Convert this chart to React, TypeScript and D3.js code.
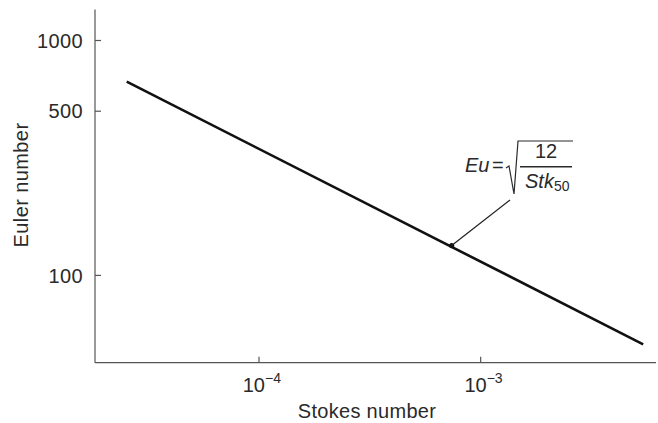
import React from "react";
import * as d3 from "d3";

const lineStokes = [2.53e-5, 5.41e-3];
const lineEuler = [668, 50.9];
const markerStokes = [7.4e-4];
const markerEuler = [134];
const yTicks = [100, 500, 1000];
const yTickLabels = ["100", "500", "1000"];
const xTicks = [1e-4, 1e-3];
const xTickExps = ["−4", "−3"];
const xTitle = "Stokes number";
const yTitle = "Euler number";

const W = 658;
const H = 423;
const FONT = "'Liberation Sans', Arial, Helvetica, sans-serif";
const TXT = "#2a2a2a";
const AX = "#555";
const FS = 20;

export default function App() {
  const x = d3.scaleLog().domain([1.82e-5, 6.18e-3]).range([95, 656]);
  const y = d3.scaleLog().domain([42.5, 1355]).range([362.7, 9.5]);
  const pts: [number, number][] = lineStokes.map((s, i) => [s, lineEuler[i]]);
  const line = d3
    .line<[number, number]>()
    .x((d) => x(d[0]))
    .y((d) => y(d[1]));
  const x0 = x.range()[0];
  const x1 = x.range()[1];
  const y0 = y.range()[0];
  const y1 = y.range()[1];
  const mx = x(markerStokes[0]);
  const my = y(markerEuler[0]);

  return (
    <div style={{ position: "absolute", left: 0, top: 0 }}>
      <svg width={W} height={H} style={{ display: "block", background: "#fff" }} fontFamily={FONT}>
        {/* axes */}
        <line x1={x0} x2={x0} y1={y1} y2={y0} stroke={AX} strokeWidth={1.2} />
        <line x1={x0} x2={x1} y1={y0} y2={y0} stroke={AX} strokeWidth={1.2} />
        {yTicks.map((t, i) => (
          <g key={"y" + t}>
            <line x1={x0} x2={x0 + 6} y1={y(t)} y2={y(t)} stroke={AX} strokeWidth={1.2} />
            <text x={83} y={y(t)} dy="0.36em" textAnchor="end" fontSize={FS} letterSpacing={0.4} fill={TXT}>
              {yTickLabels[i]}
            </text>
          </g>
        ))}
        {xTicks.map((t, i) => (
          <g key={"x" + t}>
            <line x1={x(t)} x2={x(t)} y1={y0} y2={y0 - 6} stroke={AX} strokeWidth={1.2} />
            <text x={x(t) + 6} y={392} textAnchor="end" fontSize={FS} fill={TXT}>
              10
            </text>
            <text x={x(t) + 6} y={383} textAnchor="start" fontSize={14} fill={TXT}>
              {xTickExps[i]}
            </text>
          </g>
        ))}
        <text x={367} y={418} textAnchor="middle" fontSize={FS} letterSpacing={0.3} fill={TXT}>
          {xTitle}
        </text>
        <text
          transform={`translate(28,185) rotate(-90)`}
          textAnchor="middle"
          fontSize={FS}
          letterSpacing={0.4}
          fill={TXT}
        >
          {yTitle}
        </text>
        {/* data line */}
        <path d={line(pts) || ""} fill="none" stroke="#111" strokeWidth={2.6} />
        {/* marker and leader */}
        <circle cx={mx} cy={my} r={2.6} fill="#111" />
        <line x1={mx} y1={my} x2={510} y2={200} stroke="#222" strokeWidth={1.2} />
        {/* formula */}
        <text x={465} y={172} fontSize={20} fill={TXT} fontStyle="italic">
          Eu
        </text>
        <text x={492} y={172} fontSize={20} fill={TXT}>
          =
        </text>
        <path
          d="M506,168 L509,166 L514,194 L518,141 L573,141"
          fill="none"
          stroke={TXT}
          strokeWidth={1.2}
        />
        <text x={546} y={158} textAnchor="middle" fontSize={20} fill={TXT}>
          12
        </text>
        <line x1={520} x2={572} y1={166.7} y2={166.7} stroke={TXT} strokeWidth={1.4} />
        <text x={525} y={188} fontSize={20} fill={TXT}>
          <tspan fontStyle="italic">Stk</tspan>
          <tspan fontSize={14} dy={3}>50</tspan>
        </text>
      </svg>
    </div>
  );
}
